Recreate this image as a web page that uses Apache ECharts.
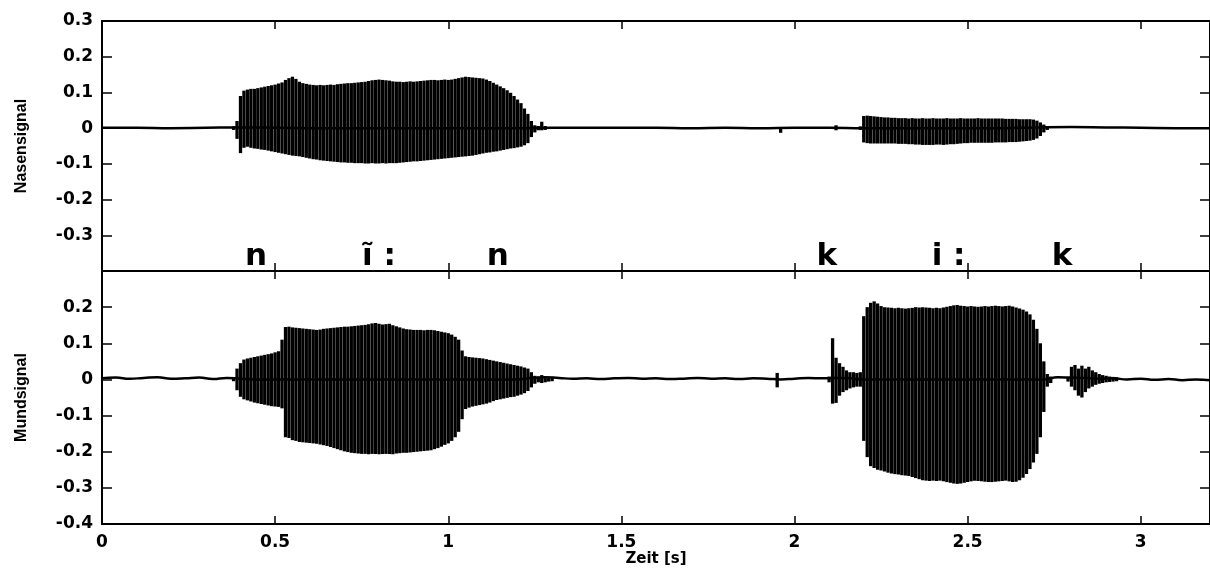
<!DOCTYPE html>
<html>
<head>
<meta charset="utf-8">
<script src="https://cdn.jsdelivr.net/npm/echarts/dist/echarts.min.js"></script>
<style>
  html, body { margin: 0; padding: 0; background: #fff; }
  #chart { width: 1210px; height: 568px; }
</style>
</head>
<body>
<div id="chart"></div>
<script>
// Sampling grid of the envelope tables (seconds per column)
const STEP = 0.01;

// Nasal channel: upper / lower envelope per 10 ms column
const nasalStartA = 0.38;
const nasalHiA = [0.005,0.020,0.090,0.105,0.108,0.110,0.110,0.112,0.114,0.116,
  0.118,0.120,0.122,0.125,0.128,0.135,0.140,0.144,0.138,0.130,
  0.126,0.124,0.122,0.121,0.120,0.121,0.120,0.121,0.122,0.121,
  0.123,0.124,0.125,0.126,0.126,0.127,0.128,0.129,0.130,0.132,
  0.134,0.135,0.136,0.135,0.134,0.133,0.131,0.130,0.130,0.129,
  0.130,0.131,0.130,0.131,0.132,0.133,0.134,0.135,0.135,0.134,
  0.135,0.136,0.135,0.136,0.138,0.140,0.142,0.144,0.143,0.142,
  0.141,0.140,0.139,0.136,0.132,0.127,0.122,0.117,0.112,0.106,
  0.099,0.090,0.080,0.070,0.055,0.040,0.020,0.008,0.006,0.018,
  0.006];
const nasalLoA = [-0.005,-0.030,-0.070,-0.055,-0.052,-0.055,-0.057,-0.058,-0.060,-0.061,
  -0.063,-0.065,-0.067,-0.069,-0.071,-0.073,-0.075,-0.077,-0.078,-0.079,
  -0.081,-0.083,-0.085,-0.087,-0.088,-0.090,-0.091,-0.092,-0.093,-0.094,
  -0.095,-0.096,-0.096,-0.097,-0.097,-0.098,-0.098,-0.098,-0.099,-0.099,
  -0.098,-0.099,-0.099,-0.098,-0.099,-0.098,-0.098,-0.098,-0.097,-0.096,
  -0.095,-0.094,-0.093,-0.093,-0.092,-0.091,-0.090,-0.089,-0.088,-0.087,
  -0.086,-0.085,-0.084,-0.083,-0.082,-0.081,-0.080,-0.079,-0.078,-0.077,
  -0.075,-0.073,-0.071,-0.069,-0.068,-0.066,-0.065,-0.063,-0.061,-0.059,
  -0.057,-0.056,-0.054,-0.052,-0.048,-0.042,-0.025,-0.012,-0.006,-0.006,
  -0.005];
const nasalStartB = 2.19;
const nasalHiB = [0.005,0.034,0.035,0.034,0.033,0.032,0.031,0.030,0.030,0.029,
  0.029,0.028,0.028,0.028,0.027,0.028,0.027,0.027,0.028,0.027,
  0.027,0.028,0.027,0.027,0.027,0.028,0.027,0.027,0.027,0.028,
  0.027,0.027,0.027,0.027,0.028,0.027,0.027,0.027,0.027,0.027,
  0.027,0.027,0.026,0.026,0.026,0.026,0.025,0.025,0.025,0.025,
  0.024,0.021,0.016,0.010,0.004];
const nasalLoB = [-0.005,-0.040,-0.042,-0.043,-0.043,-0.043,-0.043,-0.043,-0.043,-0.043,
  -0.043,-0.044,-0.044,-0.044,-0.045,-0.045,-0.046,-0.046,-0.047,-0.047,
  -0.047,-0.047,-0.046,-0.046,-0.047,-0.046,-0.045,-0.045,-0.044,-0.043,
  -0.042,-0.042,-0.041,-0.041,-0.041,-0.041,-0.041,-0.041,-0.041,-0.040,
  -0.040,-0.040,-0.040,-0.039,-0.039,-0.039,-0.038,-0.037,-0.036,-0.035,
  -0.033,-0.029,-0.022,-0.012,-0.005];
const nasalBlipTimes = [1.96, 2.12];
const nasalBlipHi = [0.003, 0.008];
const nasalBlipLo = [-0.013, -0.006];
// Nasal resting line, one value per 100 ms
const nasalBaseStep = 0.1;
const nasalBase = [0.001,0.001,0.000,0.001,0.002,0.001,0.000,0.000,0.000,0.000,
  0.000,0.000,0.000,0.001,0.001,0.001,0.001,0.000,0.001,0.000,
  0.001,0.001,0.000,0.000,0.000,0.000,0.000,0.002,0.003,0.002,
  0.001,0.000,0.000];

// Oral channel: upper / lower envelope per 10 ms column
const mouthStartA = 0.38;
const mouthHiA = [0.005,0.030,0.045,0.055,0.058,0.060,0.062,0.064,0.066,0.068,
  0.070,0.072,0.075,0.078,0.110,0.145,0.146,0.144,0.143,0.142,
  0.141,0.140,0.139,0.138,0.137,0.138,0.140,0.141,0.142,0.143,
  0.144,0.145,0.146,0.146,0.147,0.148,0.149,0.150,0.151,0.153,
  0.155,0.156,0.154,0.152,0.153,0.154,0.150,0.147,0.144,0.141,
  0.139,0.138,0.137,0.137,0.137,0.136,0.137,0.137,0.136,0.134,
  0.132,0.130,0.128,0.124,0.118,0.110,0.080,0.064,0.062,0.061,
  0.060,0.059,0.058,0.056,0.054,0.052,0.050,0.048,0.046,0.044,
  0.042,0.040,0.038,0.036,0.033,0.030,0.020,0.010,0.008,0.012,
  0.008,0.006,0.005];
const mouthLoA = [-0.005,-0.030,-0.048,-0.055,-0.058,-0.061,-0.064,-0.066,-0.068,-0.070,
  -0.072,-0.074,-0.075,-0.076,-0.080,-0.160,-0.162,-0.168,-0.170,-0.173,
  -0.174,-0.175,-0.176,-0.177,-0.178,-0.180,-0.182,-0.184,-0.187,-0.190,
  -0.193,-0.196,-0.199,-0.201,-0.203,-0.204,-0.205,-0.206,-0.206,-0.207,
  -0.206,-0.206,-0.207,-0.206,-0.206,-0.206,-0.207,-0.205,-0.204,-0.203,
  -0.203,-0.202,-0.201,-0.200,-0.199,-0.198,-0.197,-0.196,-0.193,-0.190,
  -0.186,-0.181,-0.177,-0.170,-0.160,-0.145,-0.110,-0.082,-0.078,-0.075,
  -0.073,-0.071,-0.069,-0.067,-0.064,-0.060,-0.057,-0.055,-0.053,-0.051,
  -0.049,-0.048,-0.045,-0.042,-0.038,-0.032,-0.022,-0.012,-0.008,-0.010,
  -0.008,-0.006,-0.005];
const mouthStartC = 2.10;
const mouthHiC = [0.008,0.114,0.060,0.045,0.035,0.025,0.020,0.020,0.018,0.020,
  0.175,0.200,0.212,0.216,0.210,0.203,0.200,0.199,0.198,0.197,
  0.198,0.197,0.196,0.197,0.198,0.200,0.199,0.200,0.199,0.198,
  0.197,0.198,0.197,0.199,0.201,0.203,0.205,0.206,0.204,0.203,
  0.202,0.203,0.202,0.201,0.202,0.203,0.202,0.203,0.204,0.203,
  0.202,0.203,0.204,0.202,0.199,0.196,0.193,0.188,0.180,0.165,
  0.140,0.100,0.050,0.015,0.008];
const mouthLoC = [-0.008,-0.067,-0.065,-0.045,-0.035,-0.030,-0.025,-0.022,-0.020,-0.020,
  -0.170,-0.215,-0.240,-0.245,-0.250,-0.252,-0.255,-0.258,-0.260,-0.262,
  -0.263,-0.265,-0.266,-0.267,-0.270,-0.273,-0.276,-0.279,-0.280,-0.281,
  -0.280,-0.281,-0.280,-0.282,-0.284,-0.286,-0.288,-0.289,-0.288,-0.286,
  -0.284,-0.282,-0.280,-0.281,-0.282,-0.283,-0.284,-0.284,-0.283,-0.282,
  -0.281,-0.280,-0.282,-0.284,-0.283,-0.279,-0.272,-0.262,-0.248,-0.230,
  -0.206,-0.160,-0.090,-0.020,-0.010];
const mouthStartD = 2.79;
const mouthHiD = [0.006,0.035,0.040,0.030,0.038,0.030,0.035,0.025,0.020,0.015,
  0.012,0.010,0.008,0.007,0.006];
const mouthLoD = [-0.006,-0.020,-0.030,-0.045,-0.050,-0.035,-0.025,-0.020,-0.015,-0.012,
  -0.010,-0.008,-0.007,-0.006,-0.005];
const mouthBlipTimes = [1.95];
const mouthBlipHi = [0.018];
const mouthBlipLo = [-0.022];
// Oral resting line, one value per 40 ms
const mouthBaseStep = 0.04;
const mouthBase = [0.003,0.005,0.002,0.004,0.006,0.002,0.003,0.005,0.001,0.004,
  0.002,0.000,0.000,0.000,0.000,0.000,0.000,0.000,0.000,0.000,
  0.000,0.000,0.000,0.000,0.000,0.000,0.000,0.000,0.000,0.000,
  0.000,0.004,0.006,0.004,0.002,0.003,0.001,0.003,0.004,0.002,
  0.003,0.001,0.002,0.004,0.002,0.003,0.001,0.003,0.002,0.000,
  0.002,0.004,0.003,0.004,0.003,0.000,0.000,0.000,0.000,0.000,
  0.000,0.000,0.000,0.000,0.000,0.000,0.000,0.000,0.000,0.006,
  0.005,0.004,0.002,0.003,0.000,0.002,-0.001,0.001,-0.002,0.000,
  -0.002];

// Phonetic transcription above the time axis
const phoneLabels = ['n', 'ĩ :', 'n', 'k', 'i :', 'k'];
const phoneTimes = [0.445, 0.80, 1.143, 2.093, 2.445, 2.773];
const phoneLevel = -0.36;

// Axis ranges and tick spacing
const timeMin = 0, timeMax = 3.2, timeTick = 0.5;
const ampMin = -0.4, ampMax = 0.3, ampTick = 0.1;

function round3(v) { return Math.round(v * 1000) / 1000; }
function columns(start, hi, lo) {
  return hi.map((h, i) => [round3(start + i * STEP), lo[i], h]);
}
function blips(times, hi, lo) {
  return times.map((t, i) => [t, lo[i], hi[i]]);
}
function restLine(step, values) {
  return values.map((v, i) => [round3(i * step), v]);
}

const nasalColumns = [].concat(
  columns(nasalStartA, nasalHiA, nasalLoA),
  columns(nasalStartB, nasalHiB, nasalLoB),
  blips(nasalBlipTimes, nasalBlipHi, nasalBlipLo)
);
const mouthColumns = [].concat(
  columns(mouthStartA, mouthHiA, mouthLoA),
  columns(mouthStartC, mouthHiC, mouthLoC),
  columns(mouthStartD, mouthHiD, mouthLoD),
  blips(mouthBlipTimes, mouthBlipHi, mouthBlipLo)
);

// One vertical stroke from the lower to the upper envelope per column
function pulse(params, api) {
  const a = api.coord([api.value(0), api.value(1)]);
  const b = api.coord([api.value(0), api.value(2)]);
  return {
    type: 'line',
    shape: { x1: a[0], y1: a[1], x2: b[0], y2: b[1] },
    style: { stroke: '#000', lineWidth: 3.3 }
  };
}

// Phonetic symbol centred on its time position
function phone(params, api) {
  const p = api.coord([api.value(0), api.value(1)]);
  return {
    type: 'text', x: p[0], y: p[1],
    style: {
      text: phoneLabels[params.dataIndex],
      font: 'bold 31px "DejaVu Sans"',
      fill: '#000', align: 'center', verticalAlign: 'middle'
    }
  };
}

const tickFont = { fontFamily: 'DejaVu Sans', fontWeight: 'bold', fontSize: 17, color: '#000' };
const frameLine = { show: true, onZero: false, lineStyle: { color: '#000', width: 2 } };

function timeAxis(gridIndex, position, labelled) {
  const ax = {
    type: 'value', gridIndex, position,
    min: timeMin, max: timeMax, interval: timeTick,
    axisLine: frameLine,
    axisTick: { show: true, inside: true, length: 8, lineStyle: { color: '#000', width: 1.5 } },
    splitLine: { show: false },
    axisLabel: labelled
      ? Object.assign({ show: true, margin: 10, showMaxLabel: false }, tickFont)
      : { show: false }
  };
  if (labelled) {
    ax.name = 'Zeit [s]';
    ax.nameLocation = 'middle';
    ax.nameGap = 27;
    ax.nameTextStyle = { fontFamily: 'DejaVu Sans', fontWeight: 'bold', fontSize: 15, color: '#000' };
  }
  return ax;
}
function ampAxis(gridIndex, position, name, hideMin, hideMax) {
  const ax = {
    type: 'value', gridIndex, position,
    min: ampMin, max: ampMax, interval: ampTick,
    axisLine: frameLine,
    axisTick: { show: true, inside: true, length: 10, lineStyle: { color: '#000', width: 1.5 } },
    splitLine: { show: false },
    axisLabel: name
      ? Object.assign({ show: true, margin: 9, showMinLabel: !hideMin, showMaxLabel: !hideMax }, tickFont)
      : { show: false }
  };
  if (name) {
    ax.name = name;
    ax.nameLocation = 'middle';
    ax.nameRotate = 90;
    ax.nameGap = 72;
    ax.nameTextStyle = { fontFamily: 'Liberation Sans', fontWeight: 'bold', fontSize: 16, color: '#000' };
  }
  return ax;
}

const chart = echarts.init(document.getElementById('chart'), null, { renderer: 'canvas' });
chart.setOption({
  backgroundColor: '#fff',
  animation: false,
  grid: [
    { left: 102, top: 21, width: 1115, height: 250 },
    { left: 102, top: 271, width: 1115, height: 253 }
  ],
  xAxis: [
    timeAxis(0, 'bottom', false),
    timeAxis(0, 'top', false),
    timeAxis(1, 'bottom', true),
    timeAxis(1, 'top', false)
  ],
  yAxis: [
    ampAxis(0, 'left', 'Nasensignal', true, false),
    ampAxis(0, 'right', null),
    ampAxis(1, 'left', 'Mundsignal', false, true),
    ampAxis(1, 'right', null)
  ],
  series: [
    {
      type: 'line', xAxisIndex: 0, yAxisIndex: 0, silent: true,
      data: restLine(nasalBaseStep, nasalBase), symbol: 'none', smooth: true,
      lineStyle: { color: '#000', width: 2.5 }, z: 2
    },
    {
      type: 'custom', xAxisIndex: 0, yAxisIndex: 0, silent: true, clip: true,
      renderItem: pulse, data: nasalColumns, encode: { x: 0, y: [1, 2] }, z: 3
    },
    {
      type: 'line', xAxisIndex: 2, yAxisIndex: 2, silent: true,
      data: restLine(mouthBaseStep, mouthBase), symbol: 'none', smooth: true,
      lineStyle: { color: '#000', width: 2.5 }, z: 2
    },
    {
      type: 'custom', xAxisIndex: 2, yAxisIndex: 2, silent: true, clip: true,
      renderItem: pulse, data: mouthColumns, encode: { x: 0, y: [1, 2] }, z: 3
    },
    {
      type: 'custom', xAxisIndex: 0, yAxisIndex: 0, silent: true,
      renderItem: phone,
      data: phoneTimes.map(t => [t, phoneLevel]),
      encode: { x: 0, y: 1 },
      z: 5
    }
  ]
});
</script>
</body>
</html>
